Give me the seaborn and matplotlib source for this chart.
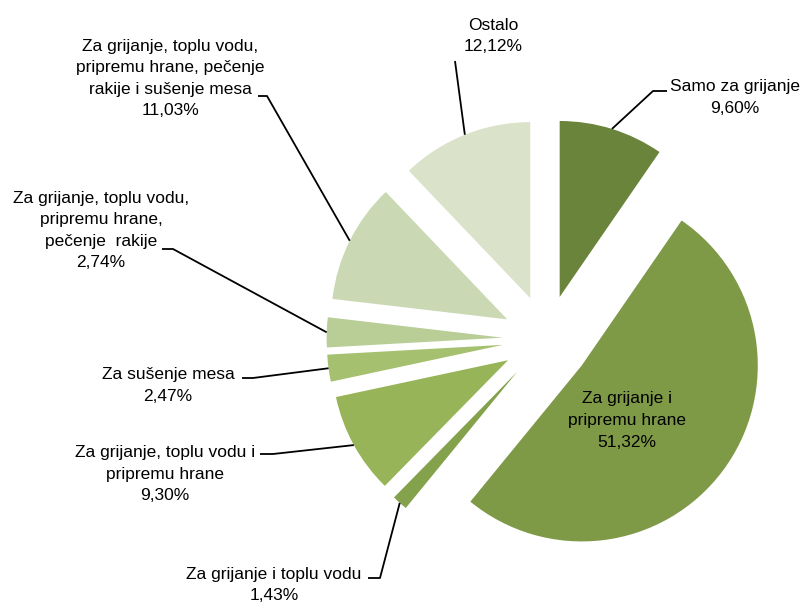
import numpy as np
import matplotlib
matplotlib.use("Agg")
import matplotlib.pyplot as plt
from matplotlib import font_manager
import seaborn as sns

# ---- data ----
labels = [
    "Samo za grijanje",
    "Za grijanje i\npripremu hrane",
    "Za grijanje i toplu vodu",
    "Za grijanje, toplu vodu i\npripremu hrane",
    "Za sušenje mesa",
    "Za grijanje, toplu vodu,\npripremu hrane,\npečenje  rakije",
    "Za grijanje, toplu vodu,\npripremu hrane, pečenje\nrakije i sušenje mesa",
    "Ostalo",
]
values = [9.60, 51.32, 1.43, 9.30, 2.47, 2.74, 11.03, 12.12]
value_labels = ["9,60%", "51,32%", "1,43%", "9,30%", "2,47%", "2,74%", "11,03%", "12,12%"]
colors_hex = ["#6B843C", "#7F9A47", "#84A24B", "#97B458", "#A5C06F",
              "#B9CE97", "#CAD8B3", "#DAE3C9"]

sns.set_theme(style="white")
names = {f.name for f in font_manager.fontManager.ttflist}
if "Liberation Sans Narrow" in names:
    plt.rcParams['font.family'] = ['Liberation Sans Narrow', 'DejaVu Sans']
    FS, LS = 15.5, 1.29
else:
    plt.rcParams['font.family'] = ['Liberation Sans', 'DejaVu Sans']
    FS, LS = 12.5, 1.55
palette = sns.color_palette(colors_hex)

W, H = 802, 606
fig = plt.figure(figsize=(W / 100, H / 100), dpi=100)
ax = fig.add_axes([0, 0, 1, 1])

# pie geometry in pixels
CX, CY, R = 546.6, 339.0, 176.0
EXP = 0.25

def px(x, y):
    return ((x - CX) / R, (CY - y) / R)

ax.pie(values, startangle=90, counterclock=False, explode=[EXP] * len(values),
       colors=palette, radius=1, wedgeprops=dict(linewidth=0))

ax.set_xlim(-CX / R, (W - CX) / R)
ax.set_ylim(-(H - CY) / R, CY / R)
ax.set_aspect('equal')
ax.axis('off')

# mid angles of wedges
total = sum(values)
ends = 90 - 360 * np.cumsum(values) / total
starts = ends + 360 * np.array(values) / total
mids = np.deg2rad((starts + ends) / 2)

# layout of labels (pixel positions): text centre, elbow points
layout = {
    0: dict(text=(735, 97.5), elbow=[(653, 91), (667, 91)]),
    1: dict(text=(627, 420.5), elbow=None),
    2: dict(text=(274, 585), elbow=[(380, 578), (368, 578)]),
    3: dict(text=(165, 474), elbow=[(273, 454), (260, 454)]),
    4: dict(text=(168, 385.5), elbow=[(253, 378), (242, 378)]),
    5: dict(text=(101, 230.5), elbow=[(173, 249), (162, 249)]),
    6: dict(text=(170, 78.5), elbow=[(267, 96), (258, 96)]),
    7: dict(text=(493, 36), elbow=[(455, 61)]),
}

for i, (lab, vl) in enumerate(zip(labels, value_labels)):
    lay = layout[i]
    tx, ty = px(*lay["text"])
    ax.text(tx, ty, f"{lab}\n{vl}", ha="center", va="center", fontsize=FS,
            linespacing=LS, color="black")
    if lay["elbow"] is not None:
        r_out = 1 + EXP
        ax_pt = (r_out * np.cos(mids[i]), r_out * np.sin(mids[i]))
        pts = [ax_pt] + [px(*p) for p in lay["elbow"]]
        xs, ys = zip(*pts)
        ax.plot(xs, ys, color="black", lw=1.3, solid_capstyle="butt")

fig.savefig("out.png", dpi=100)
